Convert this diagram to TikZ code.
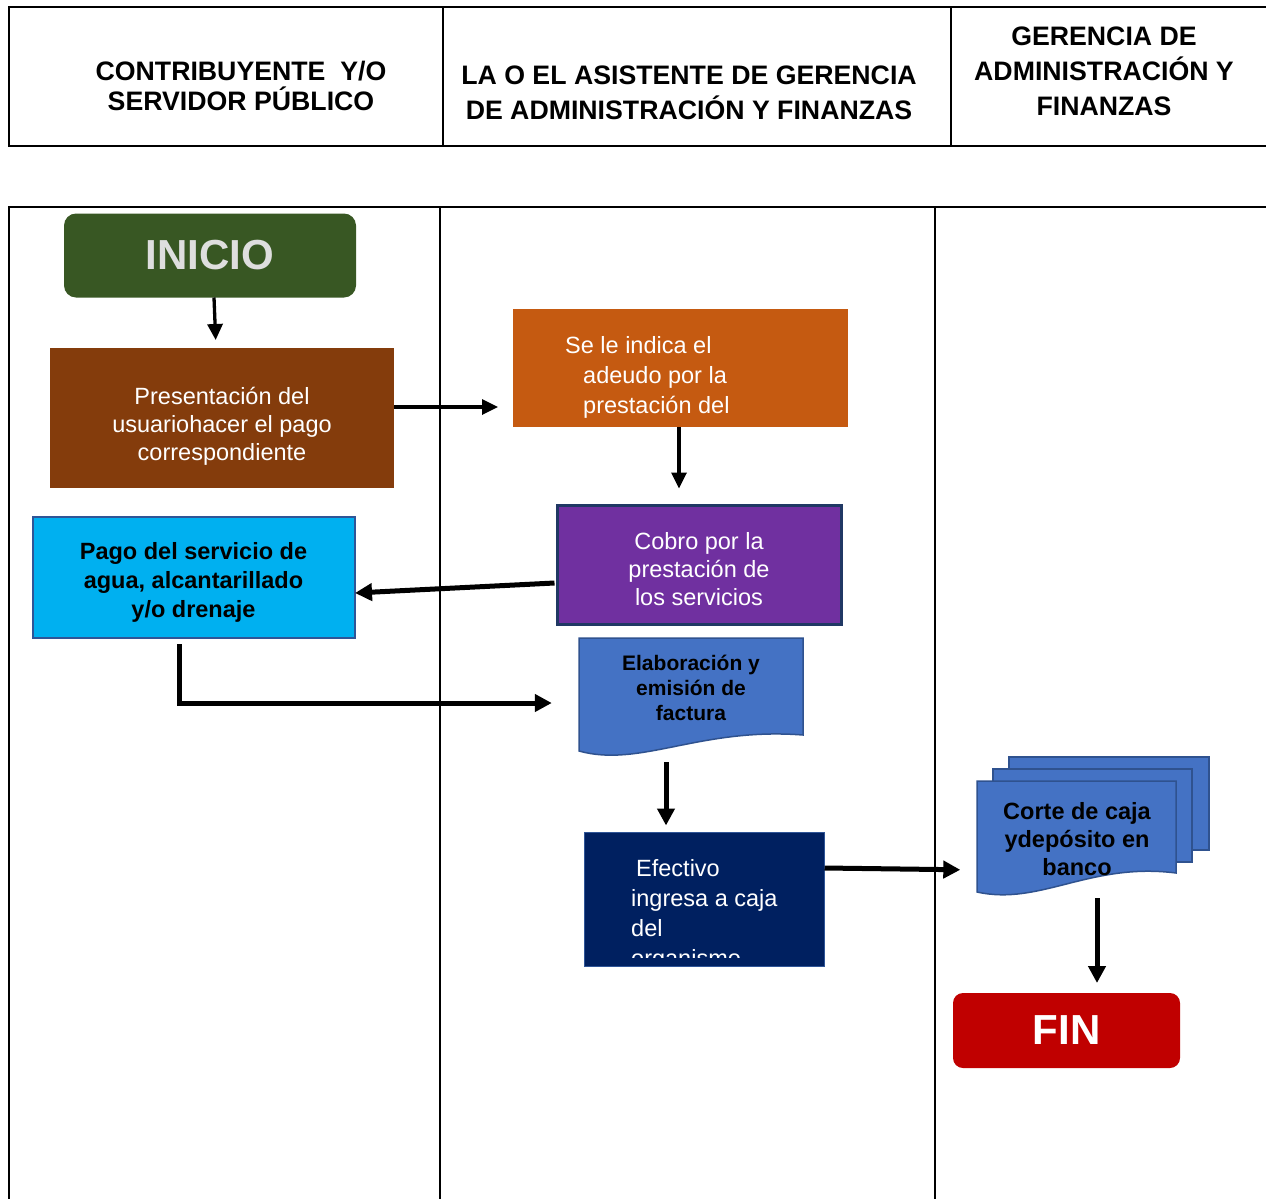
\documentclass[tikz,border=0pt]{standalone}
\usepackage{fontspec}
\setmainfont{Liberation Sans}
\usetikzlibrary{arrows.meta}
\definecolor{cGreen}{RGB}{56,87,35}
\definecolor{cBrown}{RGB}{132,60,12}
\definecolor{cOrange}{RGB}{197,90,17}
\definecolor{cPurple}{RGB}{112,48,160}
\definecolor{cNavyB}{RGB}{32,56,100}
\definecolor{cCyan}{RGB}{0,176,240}
\definecolor{cEdge}{RGB}{47,85,151}
\definecolor{cDoc}{RGB}{68,114,196}
\definecolor{cDocEdge}{RGB}{47,82,143}
\definecolor{cNavy}{RGB}{0,32,96}
\definecolor{cRed}{RGB}{192,0,0}
\definecolor{cInicioTxt}{RGB}{222,222,222}
\begin{document}
\begin{tikzpicture}[x=1pt,y=-1pt,
  hdrline/.style={line width=2pt},
  laneline/.style={line width=1.5pt},
  hdrtxt/.style={font=\bfseries\fontsize{26.7}{35}\selectfont, align=center, inner sep=0pt},
  boxsq/.style={inner sep=0pt, outer sep=0pt},
  wtxt/.style={text=white, font=\fontsize{23.5}{28}\selectfont, inner sep=0pt},
  btxt/.style={text=black, font=\bfseries\fontsize{23.5}{29}\selectfont, inner sep=0pt, align=center},
  docshape/.style={fill=cDoc, draw=cDocEdge, line width=1.5pt},
  thinarr/.style={line width=3.3pt, -{Triangle[length=16pt,width=15pt]}},
  thickarr/.style={line width=5pt, -{Triangle[length=17pt,width=17pt]}},
]
\useasboundingbox (0,0) rectangle (1266,1199);

% header table
\draw[hdrline] (1266,7) -- (9,7) -- (9,146) -- (1266,146);
\draw[hdrline] (443,7) -- (443,146);
\draw[hdrline] (951,7) -- (951,146);
\node[hdrtxt, font=\bfseries\fontsize{26.7}{30}\selectfont] (h1) at (241,86) {CONTRIBUYENTE\ \ Y/O\\SERVIDOR PÚBLICO};
\node[hdrtxt] (h2) at (689,93) {LA O EL ASISTENTE DE GERENCIA\\DE ADMINISTRACIÓN Y FINANZAS};
\node[hdrtxt] (h3) at (1104,71) {GERENCIA DE\\ADMINISTRACIÓN Y\\FINANZAS};

% lanes
\draw[laneline] (1266,207) -- (9,207) -- (9,1199);
\draw[laneline] (440,207) -- (440,1199);
\draw[laneline] (935,207) -- (935,1199);

% nodes
\node[boxsq, fill=cGreen, rounded corners=12pt, minimum width=292pt, minimum height=84pt, text=cInicioTxt, font=\bfseries\fontsize{42}{48}\selectfont] (inicio) at (210,255.5) {INICIO};

\node[boxsq, fill=cBrown, minimum width=344pt, minimum height=140pt] (pres) at (222,418) {};
\node[wtxt, align=center] (presT) at (222,426) {Presentación del\\usuariohacer el pago\\correspondiente};

\node[boxsq, fill=cOrange, minimum width=335pt, minimum height=118pt] (ade) at (680.5,368) {};
\node[wtxt, font=\fontsize{23.5}{30}\selectfont, align=left, anchor=west] (adeT) at (565,377.5) {Se le indica el\\\hspace*{18pt}adeudo por la\\\hspace*{18pt}prestación del};

\node[boxsq, fill=cPurple, draw=cNavyB, line width=3pt, minimum width=284pt, minimum height=119pt] (cobro) at (699.5,565) {};
\node[wtxt, align=center] (cobroT) at (699,569.5) {Cobro por la\\prestación de\\los servicios};

\node[boxsq, fill=cCyan, draw=cEdge, line width=1.5pt, minimum width=322pt, minimum height=121pt] (pago) at (194,577.5) {};
\node[btxt] (pagoT) at (193.5,582.5) {Pago del servicio de\\agua, alcantarillado\\y/o drenaje};

\draw[docshape] (579,638) -- (803,638) -- (803,735) .. controls (700,727) and (640,768) .. (579,751) -- cycle;
\node[btxt, font=\bfseries\fontsize{21}{25}\selectfont, minimum width=224pt] (fact) at (691,688) {Elaboración y\\emisión de\\factura};
\coordinate (factB) at (666,755);

\node[boxsq, fill=cNavy, draw=cEdge, line width=1.5pt, minimum width=240pt, minimum height=134pt] (efe) at (704.5,899.5) {};
\begin{scope}
\clip (590,840) rectangle (820,957);
\node[wtxt, font=\fontsize{23.5}{30}\selectfont, align=left, anchor=west] (efeT) at (631,915) {\hspace*{5pt}Efectivo\\ingresa a caja\\del\\organismo};
\end{scope}

\draw[docshape] (1009,757) rectangle (1209,850);
\draw[docshape] (993,769) rectangle (1192,862);
\draw[docshape] (977,781) -- (1176,781) -- (1176,873) .. controls (1090,862) and (1040,906) .. (977,892) -- cycle;
\node[btxt, font=\bfseries\fontsize{23.5}{28}\selectfont, minimum width=199pt] (corte) at (1077,839) {Corte de caja\\ydepósito en\\banco};
\coordinate (corteB) at (1097,898);

\node[boxsq, fill=cRed, rounded corners=10pt, minimum width=227pt, minimum height=75pt, text=white, font=\bfseries\fontsize{42}{48}\selectfont] (fin) at (1066.5,1030.5) {FIN};

% connectors
\draw[thinarr, shorten >=8pt] ([xshift=4pt]inicio.south) -- ([xshift=-6pt]pres.north);
\draw[thinarr, shorten >=15pt] ([yshift=11pt]pres.east) -- ([yshift=11pt]pres.east -| ade.west);
\draw[thinarr, shorten >=17pt] ([xshift=-1.5pt]ade.south) -- ([xshift=-1.5pt]ade.south |- cobro.north);
\draw[thickarr] ([xshift=-3pt,yshift=-18pt]cobro.west) -- ([yshift=-15.5pt]pago.east);
\draw[thickarr, shorten <=6pt, shorten >=27pt] ([xshift=-15pt]pago.south) |- ([yshift=-15pt]fact.west);
\draw[thickarr, shorten <=7pt, shorten >=7pt] (factB) -- (factB |- efe.north);
\draw[thickarr, shorten >=17pt] ([yshift=31.5pt]efe.east) -- ([yshift=29.5pt]efe.east -| corte.west);
\draw[thickarr, shorten >=10pt] (corteB) -- (corteB |- fin.north);
\end{tikzpicture}
\end{document}
